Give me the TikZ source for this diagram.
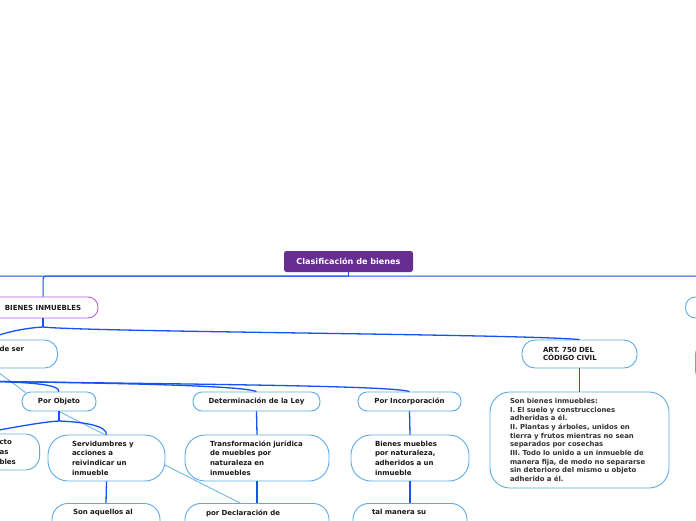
\documentclass[tikz,border=0pt]{standalone}
\usepackage{fontspec}
\setmainfont{DejaVu Sans}
\usetikzlibrary{calc}
\definecolor{mblue}{RGB}{22,82,240}
\definecolor{lblue}{RGB}{92,170,232}
\definecolor{relblue}{RGB}{110,185,235}
\definecolor{rootpur}{RGB}{104,45,145}
\definecolor{bpur}{RGB}{178,96,230}
\definecolor{txt}{RGB}{25,25,25}
\pgfdeclarelayer{bg}
\pgfsetlayers{bg,main}
\begin{document}
\begin{tikzpicture}[x=1pt,y=-1pt,
  every node/.style={font=\fontsize{7}{9.6}\selectfont\bfseries, text=txt},
  topic/.style={draw=lblue, line width=0.9pt, fill=white, rounded corners=9pt, minimum height=19pt, inner sep=0pt, align=center},
  tbox/.style={draw=lblue, line width=0.9pt, fill=white, rounded corners=16pt, align=left, inner ysep=0pt},
  link/.style={draw=mblue, line width=1.3pt},
  rel/.style={draw=relblue, line width=0.9pt}]
\useasboundingbox (0,0) rectangle (696,520);
\begin{scope}
\clip (0,0) rectangle (696,520);
% nodes
\node[fill=rootpur, rounded corners=2.5pt, minimum width=129pt, minimum height=21pt, inner sep=0pt, text=white, font=\fontsize{8.1}{9}\selectfont\bfseries] (root) at (348.5,261.5) {Clasificación de bienes};
\node[draw=bpur, line width=0.9pt, fill=white, rounded corners=10pt, minimum width=110pt, minimum height=21pt, inner sep=0pt] (bienes) at (43,307.5) {BIENES INMUEBLES};
\node[topic, minimum width=80pt, minimum height=21pt, anchor=west, rounded corners=10pt] (right1) at (685,307.5) {};
\node[tbox, anchor=north west, minimum width=100pt, minimum height=46pt] (right2) at (695,339) {};
\node[tbox, anchor=east, text width=90pt, inner xsep=24pt, minimum height=28pt, rounded corners=13pt] (deser) at (58,354) {\hspace*{56pt}de ser\\\mbox{}};
\node[tbox, anchor=east, text width=80pt, inner xsep=20pt, minimum height=36pt, rounded corners=14pt, font=\fontsize{7}{10}\selectfont\bfseries] (objL) at (40,452) {\hspace*{60pt}cto\\\hspace*{60pt}as\\\hspace*{60pt}bles};
\node[topic, minimum width=74pt] (objeto) at (59,401.5) {Por Objeto};
\node[topic, minimum width=127pt] (detley) at (256.5,401.5) {Determinación de la Ley};
\node[topic, minimum width=103pt] (inc) at (409.5,401.5) {Por Incorporación};
\node[tbox, text width=69pt, inner xsep=24pt, minimum height=46pt, rounded corners=20pt] (serv) at (106.5,458) {Servidumbres y\\acciones a\\reivindicar un\\inmueble};
\node[tbox, text width=94pt, inner xsep=25pt, minimum height=46pt, rounded corners=20pt] (transf) at (257,458) {Transformación jurídica\\de muebles por\\naturaleza en\\inmuebles};
\node[tbox, text width=70pt, inner xsep=24pt, minimum height=46pt, rounded corners=20pt] (bien) at (410,458) {Bienes muebles\\por naturaleza,\\adheridos a un\\inmueble};
\node[tbox, anchor=north, text width=66pt, inner xsep=21pt, inner ysep=6pt, rounded corners=16pt] (son) at (106,503) {Son aquellos al\\\mbox{}\\\mbox{}};
\node[tbox, anchor=north, text width=102pt, inner xsep=21pt, inner ysep=6pt, rounded corners=16pt] (decl) at (257,503) {por Declaración de\\\mbox{}\\\mbox{}};
\node[tbox, anchor=north, text width=76pt, inner xsep=19pt, inner ysep=6pt, rounded corners=16pt] (tal) at (410,503) {tal manera su\\\mbox{}\\\mbox{}};
\node[topic, text width=73pt, inner xsep=21pt, align=left, minimum height=28pt, rounded corners=13pt, font=\fontsize{7}{8}\selectfont\bfseries] (art) at (579.5,354) {ART. 750 DEL\\CÓDIGO CIVIL};
\node[tbox, text width=139pt, inner xsep=20pt, minimum height=96pt, rounded corners=20pt, font=\fontsize{6.9}{8.67}\selectfont\bfseries, text=black!80] (artbox) at (579.5,440) {Son bienes inmuebles:\\I. El suelo y construcciones\\adheridas a él.\\II. Plantas y árboles, unidos en\\tierra y frutos mientras no sean\\separados por cosechas\\III. Todo lo unido a un inmueble de\\manera fija, de modo no separarse\\sin deterioro del mismo u objeto\\adherido a él.};
% connectors
\coordinate (rootbar) at (348.5,276);
\coordinate (farleft) at (-60,297);
\draw[link, line width=1pt] (root.south) -- (rootbar);
\draw[link, line width=1pt, rounded corners=3pt] (rootbar) -| (bienes.north);
\draw[link, line width=1pt, rounded corners=3pt] (rootbar) -| (right1.north);
\draw[link, line width=1pt, rounded corners=3pt] (rootbar) -| (farleft);
\coordinate (bhub) at (43,327);
\draw[link] (bienes.south) -- (bhub);
\draw[link] (bhub) .. controls (90,332) and (520,334) .. (art.north);
\draw[link] (bhub) .. controls (25,328) and (0,333) .. (deser.north);
\coordinate (dhub) at (-30,381);
\draw[link] (dhub) .. controls (30,382) and (59,384) .. (objeto.north);
\draw[link] (dhub) .. controls (100,383) and (240,385) .. (detley.north);
\draw[link] (dhub) .. controls (150,384) and (390,385) .. (inc.north);
\coordinate (ohub) at (59,421);
\draw[link] (objeto.south) -- (ohub);
\draw[link] (ohub) .. controls (40,422) and (0,430) .. (objL.north);
\draw[link] (ohub) .. controls (85,422) and (107,426) .. (serv.north);
\draw[link] (serv.south) -- (son.north);
\draw[link] (detley.south) -- (transf.north);
\draw[link] (transf.south) -- (decl.north);
\draw[link] (inc.south) -- (bien.north);
\draw[link] (bien.south) -- (tal.north);
\draw[link] (art.south) -- (artbox.north);
\end{scope}
\begin{pgfonlayer}{bg}
\clip (0,0) rectangle (696,520);
\fill[white] (0,0) rectangle (696,520);
\coordinate (relsrc) at (-10,366);
\draw[rel] (relsrc) -- ($(objeto.north west)+(4,1)$);
\draw[rel] (objeto.south) -- ($(decl.north)+(-17,0)$);
\end{pgfonlayer}
\end{tikzpicture}
\end{document}
